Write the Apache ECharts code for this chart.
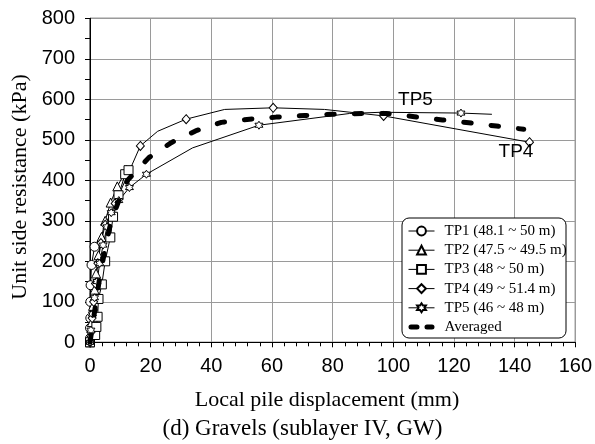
<!DOCTYPE html>
<html><head><meta charset="utf-8">
<script src="https://cdn.jsdelivr.net/npm/echarts@6/dist/echarts.min.js"></script>
<style>html,body{margin:0;padding:0;background:#fff}#c{width:595px;height:444px}</style>
</head><body><div id="c"></div>
<script>
// ---- data (displacement mm, unit side resistance kPa) ----
const seriesNames = ['TP1 (48.1 ~ 50 m)', 'TP2 (47.5 ~ 49.5 m)', 'TP3 (48 ~ 50 m)', 'TP4 (49 ~ 51.4 m)', 'TP5 (46 ~ 48 m)', 'Averaged'];
const tp1 = [[0,0],[0,10],[0,35],[0.1,60],[0.1,100],[0.2,141],[0.5,191],[1.5,236]];
const tp2 = [[0,0],[0.3,20],[0.6,50],[1,90],[1.5,130],[2,170],[2.8,215],[3.8,260],[5,300],[6.8,345],[9,385],[12,425]];
const tp3 = [[0,0],[1.7,18],[2.1,38],[2.5,63],[2.8,107],[3.9,143],[5.0,200],[6.7,259],[7.6,310],[9.4,363],[11.6,415],[12.7,425]];
const tp4 = [[0,0],[0.3,25],[0.7,60],[1.2,100],[1.8,145],[2.6,195],[3.6,245],[5,290],[8.3,343],[16.6,485],[22.3,521],[31.7,551],[44.4,575],[60.4,579],[77.3,575],[96.8,559],[144.9,494]];
const tp4Unmarked = [10, 12, 14];
const tp5 = [[0,0],[0.3,30],[0.8,70],[1.5,110],[2.3,150],[3.2,195],[4.3,240],[5.6,285],[7,320],[9.5,350],[13,382],[18.6,415],[33.8,480],[55.7,536],[85.6,565],[96,568],[122.3,566],[132.5,563]];
const tp5Unmarked = [12, 14, 15, 17];
const avg = [[0,0],[1,50],[2,100],[3,150],[4.2,200],[5.5,250],[7,300],[9.5,350],[12.5,401],[19.4,456],[26.8,493],[34.8,522],[43.3,543],[52.6,551],[61.4,556],[70.8,560],[79.6,563],[90,565],[97.7,565],[107,557],[116.2,549],[124.9,542],[134,534],[143,526]];
const xRange = [0, 160], xStep = 20;
const yRange = [0, 800], yStep = 100;
const xTitle = 'Local pile displacement (mm)';
const yTitle = 'Unit side resistance (kPa)';
const caption = '(d) Gravels (sublayer IV, GW)';
const curveLabels = [{text: 'TP5', x: 415.5, y: 100}, {text: 'TP4', x: 516, y: 151.5}];

const serif = 'Liberation Serif';
const sans = 'Liberation Sans';
const starPath = 'path://M0,-10L2.9,-5L8.7,-5L5.8,0L8.7,5L2.9,5L0,10L-2.9,5L-8.7,5L-5.8,0L-8.7,-5L-2.9,-5Z';
const dashIcon = 'path://M2.5,0h6a2.5,2.5 0 0 1 0,5h-6a2.5,2.5 0 0 1 0,-5zM18.5,0h5a2.5,2.5 0 0 1 0,5h-5a2.5,2.5 0 0 1 0,-5z';

function build(arr, unmarked) {
  return arr.map((p, i) => (unmarked && unmarked.indexOf(i) >= 0) ? {value: p, symbol: 'none'} : {value: p});
}
function mk(name, data, symbol, size, unmarked) {
  return {
    name: name, type: 'line', data: build(data, unmarked), symbol: symbol, symbolSize: size,
    showAllSymbol: true, animation: false,
    lineStyle: {color: '#000', width: 1},
    itemStyle: {color: '#fff', borderColor: '#000', borderWidth: 1}, z: 2
  };
}

const legendData = seriesNames.map((n, i) => i === seriesNames.length - 1
  ? {name: n, icon: dashIcon, itemStyle: {color: '#000', borderWidth: 0}}
  : {name: n});

const chart = echarts.init(document.getElementById('c'));
chart.setOption({
  animation: false,
  backgroundColor: '#fff',
  grid: {left: 90, right: 19.5, top: 18.3, bottom: 101.7, show: true, borderColor: '#000', borderWidth: 1},
  xAxis: {
    type: 'value', min: xRange[0], max: xRange[1], interval: xStep,
    axisLine: {onZero: false, lineStyle: {color: '#000', width: 1}},
    axisTick: {show: true, inside: false, length: 5, lineStyle: {color: '#000'}},
    minorTick: {show: true, splitNumber: 5, length: 4, lineStyle: {color: '#000'}},
    splitLine: {show: true, lineStyle: {color: '#9a9a9a', width: 1}},
    axisLabel: {fontFamily: sans, fontSize: 20, color: '#000', margin: 14}
  },
  yAxis: {
    type: 'value', min: yRange[0], max: yRange[1], interval: yStep,
    axisLine: {onZero: false, lineStyle: {color: '#000', width: 1}},
    axisTick: {show: true, inside: false, length: 5, lineStyle: {color: '#000'}},
    minorTick: {show: true, splitNumber: 2, length: 5, lineStyle: {color: '#000'}},
    splitLine: {show: true, lineStyle: {color: '#9a9a9a', width: 1}},
    axisLabel: {fontFamily: sans, fontSize: 20, color: '#000', margin: 15}
  },
  legend: {
    show: true, orient: 'vertical', left: 408, top: 223.5, padding: 0,
    itemWidth: 26, itemHeight: 11, itemGap: 4.2,
    data: legendData,
    lineStyle: {width: 1, color: '#000'},
    textStyle: {fontFamily: serif, fontSize: 15, lineHeight: 15, color: '#000', padding: [0, 0, 0, 5]},
    z: 10
  },
  graphic: [
    {type: 'rect', z: 5, shape: {x: 402, y: 218, width: 164, height: 120, r: 7},
     style: {fill: '#fff', stroke: '#000', lineWidth: 1}},
    {type: 'text', z: 6, x: 327, y: 400, style: {text: xTitle, font: '22px "' + serif + '"', fill: '#000', textAlign: 'center', textVerticalAlign: 'middle'}},
    {type: 'text', z: 6, x: 302.5, y: 429, style: {text: caption, font: '23px "' + serif + '"', fill: '#000', textAlign: 'center', textVerticalAlign: 'middle'}},
    {type: 'text', z: 6, x: 20.5, y: 187, rotation: Math.PI / 2, style: {text: yTitle, font: '22px "' + serif + '"', fill: '#000', textAlign: 'center', textVerticalAlign: 'middle'}}
  ].concat(curveLabels.map(l => ({type: 'text', z: 6, x: l.x, y: l.y,
    style: {text: l.text, font: '19px "' + sans + '"', fill: '#000', textAlign: 'center', textVerticalAlign: 'middle'}}))),
  series: [
    mk(seriesNames[0], tp1, 'circle', 9),
    mk(seriesNames[1], tp2, 'triangle', 9),
    mk(seriesNames[2], tp3, 'rect', 9),
    mk(seriesNames[3], tp4, 'diamond', [8, 9], tp4Unmarked),
    mk(seriesNames[4], tp5, starPath, 8, tp5Unmarked),
    {
      name: seriesNames[5], type: 'line', data: avg, symbol: 'none', animation: false, z: 3,
      lineStyle: {color: '#000', width: 5, type: [7.5, 20], cap: 'round'},
      itemStyle: {color: '#000'}
    }
  ]
});
</script></body></html>
